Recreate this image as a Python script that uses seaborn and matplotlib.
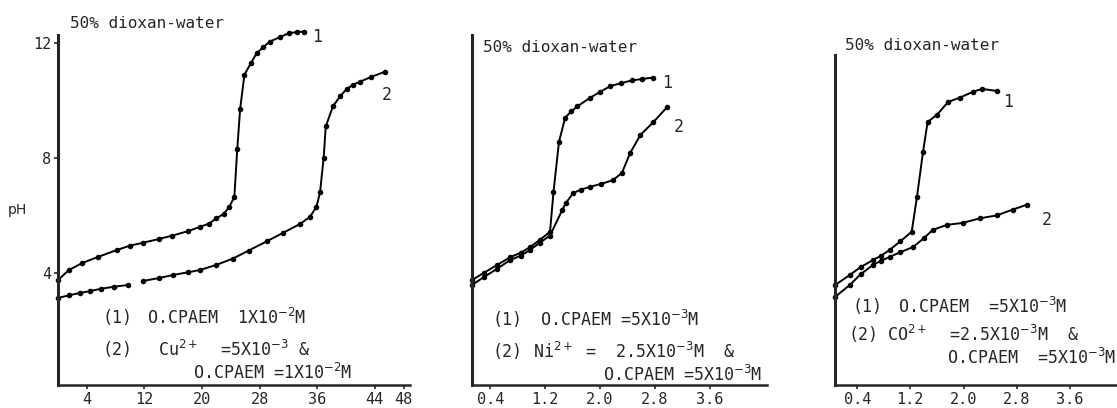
import numpy as np
import pandas as pd
import seaborn as sns
from matplotlib import pyplot as plt

# ---- data ----
# panel 1 : Cu(II), volume of titrant (ml) vs pH
cu_x1 = [0, 1.5, 3.4, 5.5, 8.2, 10, 11.8, 14, 15.9, 18, 19.7, 21, 22.0, 23.0, 23.8,
         24.5, 24.9, 25.3, 25.9, 26.8, 27.6, 28.5, 29.4, 30.8, 32.1, 33.2, 34.2]
cu_y1 = [3.75, 4.1, 4.35, 4.55, 4.8, 4.95, 5.05, 5.18, 5.3, 5.45, 5.6, 5.72, 5.9, 6.05, 6.3,
         6.65, 8.3, 9.7, 10.9, 11.3, 11.65, 11.85, 12.05, 12.2, 12.35, 12.38, 12.4]
cu_x2a = [0, 1.5, 3, 4.5, 6, 7.8, 9.7]
cu_y2a = [3.13, 3.22, 3.3, 3.37, 3.45, 3.52, 3.58]
cu_x2b = [11.8, 14, 16, 18, 19.7, 22, 24.3, 26.5, 29, 31.3, 33.6, 35.0, 35.9, 36.4,
          36.9, 37.2, 38.2, 39.2, 40.1, 41.0, 41.9, 43.5, 45.4]
cu_y2b = [3.72, 3.82, 3.93, 4.02, 4.1, 4.28, 4.5, 4.78, 5.1, 5.4, 5.7, 5.95, 6.3, 6.8,
          8.0, 9.1, 9.8, 10.15, 10.4, 10.55, 10.65, 10.82, 11.0]
cu_ticks = [4, 12, 20, 28, 36, 44, 48]

# panel 2 : Ni(II)
ni_x1 = [0.13, 0.3, 0.5, 0.69, 0.84, 0.98, 1.12, 1.27, 1.32, 1.40, 1.49, 1.58, 1.67,
         1.86, 2.0, 2.15, 2.3, 2.47, 2.62, 2.78]
ni_y1 = [3.75, 4.0, 4.28, 4.55, 4.7, 4.9, 5.15, 5.43, 6.8, 8.55, 9.4, 9.62, 9.8,
         10.1, 10.3, 10.5, 10.6, 10.7, 10.75, 10.8]
ni_x2 = [0.13, 0.3, 0.5, 0.69, 0.84, 0.98, 1.12, 1.27, 1.45, 1.5, 1.61, 1.72, 1.86,
         2.02, 2.19, 2.32, 2.44, 2.59, 2.78, 2.98]
ni_y2 = [3.58, 3.85, 4.15, 4.45, 4.6, 4.8, 5.05, 5.3, 6.2, 6.43, 6.78, 6.9, 7.0,
         7.1, 7.23, 7.48, 8.17, 8.8, 9.25, 9.77]

# panel 3 : Co(II)
co_x1 = [0.07, 0.29, 0.45, 0.64, 0.76, 0.89, 1.05, 1.22, 1.30, 1.39, 1.46, 1.60,
         1.77, 1.95, 2.14, 2.28, 2.50]
co_y1 = [3.58, 3.93, 4.2, 4.45, 4.6, 4.8, 5.1, 5.43, 6.65, 8.2, 9.25, 9.5,
         9.95, 10.1, 10.3, 10.4, 10.33]
co_x2 = [0.07, 0.29, 0.45, 0.64, 0.76, 0.89, 1.05, 1.24, 1.4, 1.54, 1.75, 1.99,
         2.25, 2.5, 2.74, 2.95]
co_y2 = [3.17, 3.58, 3.95, 4.28, 4.42, 4.56, 4.72, 4.9, 5.2, 5.5, 5.67, 5.74,
         5.9, 6.0, 6.2, 6.37]
conc_ticks = [0.4, 1.2, 2.0, 2.8, 3.6]

# ---- style ----
sns.set_style("ticks")
MONO = ['DejaVu Sans Mono']
plt.rcParams['font.family'] = MONO
plt.rcParams['mathtext.fontset'] = 'dejavusans'

W, H = 1117, 408
fig = plt.figure(figsize=(W / 100, H / 100), dpi=100)


def px_axes(l, r, t, b):
    return fig.add_axes([l / W, 1 - b / H, (r - l) / W, (b - t) / H])


def ptext(x, y, s, size=12, **kw):
    fig.text(x / W, 1 - y / H, s, fontsize=size, va='center', ha='left', **kw)


def curve(ax, xs, ys):
    sns.lineplot(x=xs, y=ys, ax=ax, color='black', marker='o', markersize=4,
                 linewidth=1.4, markeredgewidth=0, sort=False, clip_on=False)


ax1 = px_axes(58, 410, 35, 385)
ax2 = px_axes(472, 767, 35, 385)
ax3 = px_axes(835, 1117, 55, 385)

curve(ax1, cu_x1, cu_y1)
curve(ax1, cu_x2a, cu_y2a)
curve(ax1, cu_x2b, cu_y2b)
curve(ax2, ni_x1, ni_y1)
curve(ax2, ni_x2, ni_y2)
curve(ax3, co_x1, co_y1)
curve(ax3, co_x2, co_y2)

ax1.set(xlim=(0, 48.9), ylim=(0.1, 12.28), xticks=cu_ticks, yticks=[4, 8, 12])
ax2.set(xlim=(0.13, 4.44), ylim=(0.1, 12.28), xticks=conc_ticks, yticks=[])
ax3.set(xlim=(0.066, 4.31), ylim=(0.1, 11.58), xticks=conc_ticks, yticks=[])
ax1.set_xticklabels([str(t) for t in cu_ticks])
for ax in (ax2, ax3):
    ax.set_xticklabels([f"{t:.1f}" for t in conc_ticks])

for ax in (ax1, ax2, ax3):
    sns.despine(ax=ax)
    ax.spines['left'].set_linewidth(2.2)
    ax.spines['bottom'].set_linewidth(1.8)
    ax.tick_params(axis='both', length=3, width=1.2, labelsize=11, pad=2)
    ax.set_xlabel('')
    ax.set_ylabel('')
    ax.grid(False)

# titles / axis label
ptext(70, 23, "50% dioxan-water", 11.5)
ptext(483, 48, "50% dioxan-water", 11.5)
ptext(845, 46, "50% dioxan-water", 11.5)
ptext(8, 210, "pH", 10, family=['DejaVu Sans'])

# curve labels
for x, y in [(312, 37), (662, 83), (1003, 102)]:
    ptext(x, y, "1", 12)
for x, y in [(382, 95), (674, 127), (1042, 220)]:
    ptext(x, y, "2", 12)

# panel 1 legend text
ptext(102, 318, "(1)", 12)
ptext(147, 318, "O.CPAEM  1X10$^{-2}$M", 12)
ptext(102, 350, "(2)", 12)
ptext(158, 350, "Cu$^{2+}$  =5X10$^{-3}$ &", 12)
ptext(193, 373, "O.CPAEM =1X10$^{-2}$M", 12)

# panel 2 legend text
ptext(493, 320, "(1)", 12)
ptext(540, 320, "O.CPAEM =5X10$^{-3}$M", 12)
ptext(493, 352, "(2)", 12)
ptext(533, 352, "Ni$^{2+}$ =  2.5X10$^{-3}$M  &", 12)
ptext(603, 375, "O.CPAEM =5X10$^{-3}$M", 12)

# panel 3 legend text
ptext(852, 307, "(1)", 12)
ptext(898, 307, "O.CPAEM  =5X10$^{-3}$M", 12)
ptext(848, 335, "(2)", 12)
ptext(887, 335, "CO$^{2+}$  =2.5X10$^{-3}$M  &", 12)
ptext(947, 358, "O.CPAEM  =5X10$^{-3}$M", 12)

fig.savefig("out.png", dpi=100)
